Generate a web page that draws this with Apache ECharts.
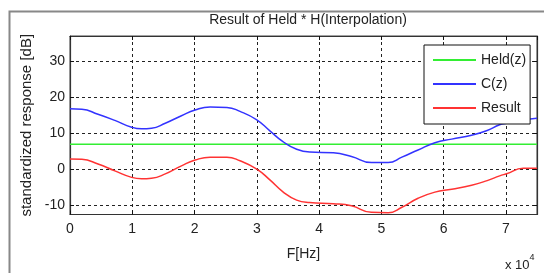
<!DOCTYPE html>
<html>
<head>
<meta charset="utf-8">
<script src="https://cdn.jsdelivr.net/npm/echarts@6/dist/echarts.min.js"></script>
<style>
  html, body { margin: 0; padding: 0; background: #fff; }
  #main { width: 544px; height: 273px; }
</style>
</head>
<body>
<div id="main"></div>
<script>
// frequency points (Hz)
const freq = [0, 1900, 4500, 7200, 9900, 11500, 13100, 15300, 17900, 20100, 22500, 25200, 27300, 30000,
    32100, 34200, 36400, 38500, 42300, 45200, 48400, 51100, 53300, 55900, 58600, 61300, 64500, 67000,
    69000, 70100, 72800, 75000]
const cz = [16.8, 16.7, 15.3, 13.6, 11.7, 11.25, 11.4, 12.8, 14.9, 16.5, 17.3, 17.2, 16.1, 13.75,
    10.7, 7.7, 5.6, 4.8, 4.6, 3.6, 1.9, 1.9, 3.4, 5.4, 7.4, 8.4, 9.5, 10.8,
    12.4, 12.8, 13.7, 14.2]
const result = [2.9, 2.8, 1.5, -0.4, -2.2, -2.6, -2.45, -1.25, 1.0, 2.6, 3.4, 3.4, 2.4, 0.1,
    -2.9, -6.2, -8.5, -9.2, -9.5, -10.1, -11.9, -12.0, -10.5, -8.0, -6.3, -5.5, -4.4, -3.1,
    -1.8, -1.2, 0.3, 0.3]
const heldFreq = [0, 75000]
const held = [7.0, 7.0]

const yTicks = [-10, 0, 10, 20, 30]

const pairs = (xs, ys) => xs.map((x, i) => [x, ys[i]])

const font = 'Liberation Sans, Arial, sans-serif'
const dash = { show: true, lineStyle: { color: '#222', type: [3, 3], width: 1 } }
const frameLine = { show: true, onZero: false, lineStyle: { color: '#333', width: 1.2 } }

let chart = echarts.init(document.getElementById('main'), null, { renderer: 'canvas' })
let option = {
    backgroundColor: '#fff',
    animation: false,
    textStyle: { fontFamily: font },
    title: {
        text: 'Result of Held * H(Interpolation)',
        left: 303, top: 8, textAlign: 'center',
        textStyle: { fontSize: 14, fontWeight: 'normal', color: '#222', fontFamily: font }
    },
    grid: { left: 70, top: 36, right: 7, bottom: 58.5, show: true, borderColor: '#444', borderWidth: 1 },
    legend: {
        orient: 'vertical', left: 424, top: 45,
        padding: [8, 4, 9, 9], itemGap: 10, itemWidth: 43, itemHeight: 2, icon: 'rect',
        backgroundColor: '#fff', borderColor: '#111', borderWidth: 1, borderRadius: 0,
        textStyle: { fontSize: 14, lineHeight: 14, color: '#222', fontFamily: font },
        data: ['Held(z)', 'C(z)', 'Result']
    },
    xAxis: [{
        type: 'value', min: 0, max: 75000, interval: 10000,
        name: 'F[Hz]', nameLocation: 'middle', nameGap: 33,
        nameTextStyle: { fontSize: 14, color: '#222' },
        axisLine: frameLine,
        axisTick: { inside: true, length: 4, lineStyle: { color: '#111' } },
        axisLabel: { margin: 8, fontSize: 14, color: '#222', showMaxLabel: false,
            formatter: v => v / 10000 },
        splitLine: dash
    }, {
        type: 'value', min: 0, max: 75000, interval: 10000, position: 'top',
        axisLine: frameLine,
        axisTick: { inside: true, length: 4, lineStyle: { color: '#111' } },
        axisLabel: { show: false }, splitLine: { show: false }
    }],
    yAxis: [{
        type: 'value', min: -12.5, max: 37,
        name: 'standardized response [dB]', nameLocation: 'middle', nameGap: 33,
        nameTextStyle: { fontSize: 15, color: '#222' },
        axisLine: frameLine,
        axisTick: { inside: true, length: 4, customValues: yTicks, lineStyle: { color: '#111' } },
        axisLabel: { margin: 5, fontSize: 14, color: '#222', customValues: yTicks },
        splitLine: dash
    }, {
        type: 'value', min: -12.5, max: 37, position: 'right',
        axisLine: frameLine,
        axisTick: { inside: true, length: 4, customValues: yTicks, lineStyle: { color: '#111' } },
        axisLabel: { show: false }, splitLine: { show: false }
    }],
    graphic: [{
        type: 'rect', left: 7, top: 9, silent: true, z: -10,
        shape: { x: 0, y: 0, width: 600, height: 300 },
        style: { fill: null, stroke: '#888', lineWidth: 2 }
    }, {
        type: 'text', left: 505, top: 253,
        style: { text: '{a|x 10}{b|4}', rich: { a: { fontSize: 13, fontFamily: font, fill: '#222', padding: [6, 0, 0, 0] },
            b: { fontSize: 9, fontFamily: font, fill: '#222', verticalAlign: 'top' } } }
    }],
    series: [{
        name: 'Held(z)', type: 'line', symbol: 'none',
        data: pairs(heldFreq, held),
        lineStyle: { color: '#33ee33', width: 1.5 }, itemStyle: { color: '#33ee33' }
    }, {
        name: 'C(z)', type: 'line', symbol: 'none', smooth: 0.5,
        data: pairs(freq, cz),
        lineStyle: { color: '#3333ff', width: 1.5 }, itemStyle: { color: '#3333ff' }
    }, {
        name: 'Result', type: 'line', symbol: 'none', smooth: 0.5,
        data: pairs(freq, result),
        lineStyle: { color: '#ff3333', width: 1.5 }, itemStyle: { color: '#ff3333' }
    }]
}
chart.setOption(option)
</script>
</body>
</html>
